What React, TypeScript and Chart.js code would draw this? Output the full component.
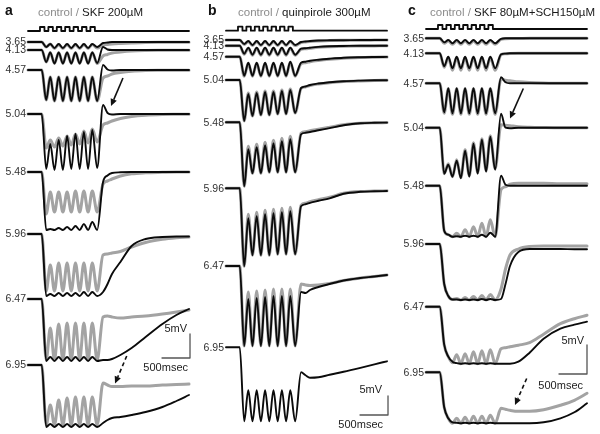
import React, { useEffect, useRef } from 'react';
import { Chart, registerables } from 'chart.js';

Chart.register(...registerables);

// ---------------- DATA ----------------
// Shared sample times (ms from trace start) locked to the 7-pulse stimulus train
const KEY_TIMES_MS = [0, 245, 325, 398, 473, 548, 623, 698, 773, 848, 923, 998, 1073, 1148, 1235, 1340, 1420, 1500, 1650, 1850, 2100, 2400, 2650, 2875];

// Holding levels (labels of the stacked sweeps)
const LEVELS = ['3.65', '4.13', '4.57', '5.04', '5.48', '5.96', '6.47', '6.95'];

// Stimulus pulse onsets (ms) and width (ms)
const STIM_ON_MS = [214, 364, 514, 664, 814, 964, 1114];
const STIM_WIDTH_MS = 80;
const STIM_END_MS = 2875;

// Hyperpolarisation (mV, positive = downward) at KEY_TIMES_MS
// Panel a: drug = SKF 200µM (black), control (gray)
const SKF200_HYP = [
  [0, 0, 1, 0.4, 1.2, 0.4, 1.2, 0.4, 1.2, 0.4, 1.2, 0.4, 1.2, 0.4, 1, 0.2, 0.1, 0, 0, 0, 0, 0, 0, 0],
  [0, 0, 2.4, 0.5, 2.7, 0.5, 2.7, 0.5, 2.7, 0.5, 2.7, 0.5, 2.7, 0.5, 2.6, -0.6, -0.1, 0, 0, 0, 0, 0, 0, 0],
  [0, 0, 6, 1.4, 6.2, 1.4, 6.2, 1.4, 6.2, 1.4, 6.2, 1.4, 6.2, 1.4, 6.2, -1, -0.1, 0.1, 0, 0, 0, 0, 0, 0],
  [0, 0, 11, 6, 11.2, 5.2, 11.2, 4.4, 11, 4, 11, 3.6, 11, 3.2, 10.8, -1.8, -0.2, 0.1, 0, 0, 0, 0, 0, 0],
  [0, 0, 11.6, 11.4, 11.6, 11.2, 11.6, 11, 11.6, 10.8, 11.6, 10.4, 11.6, 10, 11.6, 2, 0.7, 0.2, 0.06, 0, 0, 0, 0, 0],
  [0, 0, 12.4, 12, 12.4, 11.8, 12.4, 11.8, 12.4, 11.8, 12.4, 11.6, 12.4, 11.6, 12.4, 11.6, 10, 8, 5.6, 2.4, 1, 0.6, 0.5, 0.5],
  [0, 0, 12.4, 11.6, 12.4, 11.6, 12.4, 11.6, 12.4, 11.6, 12.4, 11.6, 12.4, 11.6, 12.4, 12.2, 12.2, 12, 11.2, 9.8, 7.6, 5, 3.2, 2],
  [0, 0, 12.4, 11.8, 12.4, 11.8, 12.4, 11.8, 12.4, 11.8, 12.4, 11.8, 12.4, 11.8, 12.4, 11.6, 11, 10.6, 10.4, 10, 9.4, 8.4, 7.2, 6],
];
const CONTROL_A_HYP = [
  [0, 0, 1, 0.4, 1.3, 0.5, 1.3, 0.5, 1.3, 0.5, 1.3, 0.5, 1.3, 0.5, 1.2, 0.6, 0.5, 0.4, 0.3, 0.2, 0.1, 0.06, 0.04, 0.04],
  [0, 0, 2.4, 0.5, 2.7, 0.5, 2.7, 0.5, 2.7, 0.5, 2.7, 0.5, 2.7, 0.5, 2.7, 1.2, 0.9, 0.6, 0.4, 0.2, 0.1, 0.06, 0.04, 0.04],
  [0, 0, 6, 1.4, 6.2, 1.4, 6.2, 1.4, 6.2, 1.4, 6.2, 1.4, 6.2, 1.4, 6.2, 1.6, 1.2, 0.8, 0.5, 0.24, 0.1, 0.06, 0.04, 0.04],
  [0, 0, 6.8, 5.2, 6.6, 4.8, 6.4, 4.4, 6.2, 4, 6, 3.4, 5.8, 3, 5.6, 2.2, 1.8, 1.4, 0.9, 0.5, 0.24, 0.1, 0.06, 0.04],
  [0, 0, 8.4, 4, 8, 4, 8, 4, 8, 3.8, 8, 3.8, 8, 3.8, 8, 2.4, 1.8, 1.4, 0.8, 0.36, 0.16, 0.06, 0, 0],
  [0, 0, 11.4, 6.2, 11.4, 5.8, 11.4, 5.8, 11.4, 5.8, 11.4, 5.8, 11.4, 5.8, 11.4, 4.2, 4, 3.8, 3.5, 2.6, 1.7, 1.06, 0.76, 0.6],
  [0, 0, 12.2, 5.8, 12.2, 5, 12.2, 4.8, 12.2, 4.8, 12.2, 4.8, 12.2, 4.8, 12.2, 3.6, 3.4, 3.6, 3.8, 3.6, 3.4, 3, 2.6, 2.2],
  [0, 0, 12, 8, 12, 7, 12, 6.6, 12, 6.4, 12, 6.4, 12, 6.4, 12, 3.6, 4, 4.3, 4.3, 4.2, 4.2, 4, 3.9, 3.8],
];

// Panel b: drug = quinpirole 300µM (black), control (gray)
const QUIN300_HYP = [
  [0, 0, 0.8, 0.2, 1, 0.2, 1, 0.2, 1, 0.2, 1, 0.2, 1, 0.2, 1, 0.4, 0.3, 0.2, 0.1, 0.06, 0.04, 0, 0, 0],
  [0, 0, 1.6, 0.4, 1.8, 0.4, 1.8, 0.4, 1.8, 0.4, 1.8, 0.4, 1.8, 0.4, 1.8, 0.6, 0.5, 0.4, 0.24, 0.12, 0.06, 0, 0, 0],
  [0, 0, 3.8, 1.2, 3.8, 1.2, 3.8, 1.2, 3.8, 1.2, 3.8, 1.2, 3.8, 1, 3.8, 1.2, 1, 0.8, 0.6, 0.4, 0.2, 0.1, 0.06, 0.04],
  [0, 0, 8.2, 2.8, 7.2, 2.6, 7, 2.4, 7, 2.4, 6.8, 2.2, 6.8, 2, 6.6, 1.6, 1.3, 1, 0.7, 0.44, 0.24, 0.12, 0.06, 0.04],
  [0, 0, 12.8, 5.4, 10.2, 5, 10.2, 4.6, 10, 4.2, 10, 3.8, 10, 3.4, 10, 2.4, 2.1, 1.94, 1.6, 1.16, 0.6, 0.2, 0.1, 0.06],
  [0, 0, 15.6, 6, 13.4, 5.6, 13.4, 5.2, 13.4, 5, 13.2, 4.8, 13.2, 4.6, 13.2, 3.6, 3.2, 2.9, 2.5, 2, 1.1, 0.7, 0.6, 0.54],
  [0, 0, 16, 6.6, 16, 6.4, 16, 6.2, 16, 6, 16, 6, 16, 6, 16, 5.2, 5.4, 4.8, 4.2, 3.6, 2.9, 2.4, 2.1, 1.8],
  [0, 0, 14.8, 8.6, 14.8, 8.6, 14.8, 8.6, 14.8, 8.6, 14.8, 8.6, 14.8, 8.6, 14.8, 5, 5.6, 6.1, 6, 5.5, 4.9, 4.1, 3.4, 2.8],
];
const CONTROL_B_HYP = [
  [0, 0, 0.9, 0.3, 1.1, 0.3, 1.1, 0.3, 1.1, 0.3, 1.1, 0.3, 1.1, 0.3, 1.1, 0.5, 0.4, 0.3, 0.2, 0.1, 0.06, 0.04, 0.02, 0],
  [0, 0, 1.7, 0.5, 1.9, 0.5, 1.9, 0.5, 1.9, 0.5, 1.9, 0.5, 1.9, 0.5, 1.9, 0.7, 0.6, 0.5, 0.32, 0.2, 0.1, 0.06, 0.04, 0.02],
  [0, 0, 3.9, 1.3, 3.9, 1.3, 3.9, 1.3, 3.9, 1.3, 3.9, 1.3, 3.9, 1.1, 3.9, 1.4, 1.2, 1, 0.76, 0.52, 0.3, 0.16, 0.1, 0.06],
  [0, 0, 8.2, 2.6, 7.2, 2.4, 7, 2.2, 7, 2.2, 6.8, 2, 6.8, 1.8, 6.6, 1.7, 1.4, 1.1, 0.8, 0.54, 0.32, 0.18, 0.1, 0.06],
  [0, 0, 12.8, 4.8, 10.2, 4.4, 10.2, 4, 10, 3.6, 10, 3.2, 10, 2.8, 10, 2.2, 1.9, 1.7, 1.4, 1, 0.5, 0.2, 0.1, 0.06],
  [0, 0, 15.6, 5.2, 13.4, 4.8, 13.4, 4.4, 13.4, 4.2, 13.2, 4, 13.2, 3.8, 13.2, 3.4, 3, 2.7, 2.3, 1.8, 1, 0.64, 0.56, 0.5],
  [0, 0, 16, 5.2, 16, 5, 16, 4.8, 16, 4.6, 16, 4.6, 16, 4.6, 16, 3.6, 3.8, 3.9, 3.8, 3.5, 2.9, 2.4, 2.1, 1.8],
  null,
];

// Panel c: drug = SKF 80µM + SCH 150µM (black), control (gray)
const SKF80_SCH150_HYP = [
  [0, 0, 0.8, 0.34, 1, 0.34, 1, 0.34, 1, 0.34, 1, 0.34, 1, 0.34, 1, 0.1, 0, 0, 0, 0, 0, 0, 0, 0],
  [0, 0, 2.6, 0.7, 3, 0.7, 3, 0.7, 3, 0.7, 3, 0.7, 3, 0.7, 3, 0.2, 0.06, 0, 0, 0, 0, 0, 0, 0],
  [0, 0, 5.8, 1, 6, 1, 6, 1, 6, 1, 6, 1, 6, 1, 6, -1.2, -0.2, 0, 0, 0, 0, 0, 0, 0],
  [0, 0, 9.2, 7.4, 9.8, 6.6, 10.1, 4.6, 9.8, 3.2, 9.2, 2.4, 8.8, 1.8, 8.4, -2.8, 0, 0.1, 0, 0, 0, 0, 0, 0],
  [0, 0, 9, 9.8, 10.2, 10.1, 10.2, 10, 10.2, 10, 10.2, 9.8, 10.2, 9.4, 10.2, -2, -0.2, 0, 0, 0, 0, 0, 0, 0],
  [0, 0, 8, 10.4, 11.1, 11.1, 11.2, 11.1, 11.2, 11.1, 11.2, 11, 11.2, 11, 11.2, 11, 8, 4.4, 1.6, 1, 1, 1, 1.06, 1.06],
  [0, 0, 7.6, 10, 11, 11.3, 11.4, 11.3, 11.4, 11.3, 11.4, 11.3, 11.4, 11.3, 11.4, 11.4, 11.4, 11.4, 11, 9.2, 6.4, 4.4, 3.6, 3],
  [0, 0, 7, 9.2, 10, 10.1, 10.2, 10.1, 10.2, 10.1, 10.2, 10.1, 10.2, 10.1, 10.2, 10.2, 10.2, 10.2, 10.2, 10.2, 10, 9.2, 8, 6.2],
];
const CONTROL_C_HYP = [
  [0, 0, 1, 0.5, 1.2, 0.5, 1.2, 0.5, 1.2, 0.5, 1.2, 0.5, 1.2, 0.5, 1.2, 0.2, 0.1, 0.06, 0.04, 0, 0, 0, 0, 0],
  [0, 0, 2.8, 0.8, 3.4, 0.8, 3.4, 0.8, 3.4, 0.8, 3.4, 0.8, 3.4, 0.8, 3.4, 0.3, 0.1, 0.04, 0, 0, 0, 0, 0, 0],
  [0, 0, 6, 1.1, 6.2, 1.1, 6.2, 1.1, 6.2, 1.1, 6.2, 1.1, 6.2, 1.1, 6.2, -0.9, -0.6, -0.5, -0.3, -0.16, -0.06, 0, 0, 0],
  [0, 0, 9.2, 7.2, 9.8, 6.4, 10, 4.4, 9.6, 3, 9, 2.2, 8.6, 1.6, 8.2, -0.6, -0.5, -0.4, -0.2, -0.1, -0.04, 0, 0, 0],
  [0, 0, 9, 9.8, 10.2, 9.5, 10.2, 8.8, 10.2, 8.2, 10.2, 7.5, 10.2, 6.8, 10.2, 0.8, 0.2, -0.3, -0.5, -0.5, -0.5, -0.4, -0.4, -0.4],
  [0, 0, 8, 10.4, 11.1, 10.9, 11.2, 10.7, 11.2, 10.5, 11.2, 10.3, 11.2, 10.1, 11.2, 9, 5, 2.2, 1, 0.5, 0.4, 0.4, 0.4, 0.4],
  [0, 0, 7.6, 10, 11.2, 9.6, 11.4, 9.4, 11.4, 9, 11.4, 8.8, 11.4, 8.6, 11.4, 8.4, 8.2, 8, 7.7, 7.2, 5.5, 3.4, 2.4, 1.7],
  [0, 0, 7, 9.2, 10.2, 9.2, 10.2, 9, 10.2, 8.8, 10.2, 8.8, 10.2, 8.6, 10.2, 7.2, 7.4, 7.6, 7.8, 7.8, 7.5, 6.6, 5.6, 4.2],
];

// Scale bars
const SCALE_MS = 500;
const SCALE_MV_LABEL = '5mV';
const SCALE_MS_LABEL = '500msec';

// ---------------- LAYOUT / STYLE ----------------
const H = 434;
const PX_PER_MS = 0.056;
const PX_PER_UNIT = 5; // vertical px per plotted mV unit
const TRACE_X0 = 28; // px from panel left where t = 0
const FONT = "'Liberation Sans', Arial, Helvetica, sans-serif";
const BLACK = '#0b0b0b';
const GRAY = '#a3a3a3';

type Arrow = { from: [number, number]; to: [number, number]; dashed: boolean };
type Panel = {
  id: string; left: number; width: number; letter: string; letterX: number; titleX: number; drug: string;
  black: (number[] | null)[]; gray: (number[] | null)[]; topsPx: number[]; stimTopPx: number;
  bar: { cornerMs: number; cornerPx: number; heightPx: number; mvText: [number, number]; msText: [number, number] };
  arrows: Arrow[];
};

const PANELS: Panel[] = [
  {
    id: 'a', left: 0, width: 198, letter: 'a', letterX: 5, titleX: 38, drug: 'SKF 200\u00B5M',
    black: SKF200_HYP, gray: CONTROL_A_HYP,
    topsPx: [42, 50, 70, 114, 172, 234, 299, 365], stimTopPx: 31,
    bar: { cornerMs: 2893, cornerPx: 358, heightPx: 24, mvText: [-3, -29], msText: [-2, 10] },
    arrows: [
      { from: [1696, -15.6], to: [1482, -21.2], dashed: false },
      { from: [1763, -71.2], to: [1554, -76.7], dashed: true },
    ],
  },
  {
    id: 'b', left: 198, width: 200, letter: 'b', letterX: 10, titleX: 40, drug: 'quinpirole 300\u00B5M',
    black: QUIN300_HYP, gray: CONTROL_B_HYP,
    topsPx: [40, 45.7, 56.7, 80, 122.3, 188.3, 266, 347.3], stimTopPx: 30.7,
    bar: { cornerMs: 2893, cornerPx: 415, heightPx: 19, mvText: [-6, -25], msText: [-5, 10] },
    arrows: [],
  },
  {
    id: 'c', left: 398, width: 202, letter: 'c', letterX: 10, titleX: 32, drug: 'SKF 80\u00B5M+SCH150\u00B5M',
    black: SKF80_SCH150_HYP, gray: CONTROL_C_HYP,
    topsPx: [38.3, 53.3, 83.3, 127.7, 185.7, 244, 306.7, 372.3], stimTopPx: 29,
    bar: { cornerMs: 2875, cornerPx: 374, heightPx: 29, mvText: [-3, -33], msText: [-4, 12] },
    arrows: [
      { from: [1738, -17.7], to: [1500, -23.7], dashed: false },
      { from: [1798, -75.7], to: [1589, -81], dashed: true },
    ],
  },
];

function traceData(topPx: number, hyp: number[]) {
  const base = -topPx / PX_PER_UNIT;
  return KEY_TIMES_MS.map((t, i) => ({ x: t, y: base - hyp[i] }));
}

function stimData(topPx: number) {
  const base = -topPx / PX_PER_UNIT;
  const high = base + 0.8;
  const pts: { x: number; y: number }[] = [{ x: 0, y: base }];
  STIM_ON_MS.forEach((on) => {
    pts.push({ x: on, y: high });
    pts.push({ x: on + STIM_WIDTH_MS, y: base });
  });
  pts.push({ x: STIM_END_MS, y: base });
  return pts;
}

function drawArrow(ctx: CanvasRenderingContext2D, x1: number, y1: number, x2: number, y2: number, dashed: boolean) {
  const ang = Math.atan2(y2 - y1, x2 - x1);
  const head = 7;
  const hw = 3.3;
  const bx = x2 - head * Math.cos(ang);
  const by = y2 - head * Math.sin(ang);
  ctx.strokeStyle = '#111';
  ctx.fillStyle = '#111';
  ctx.lineWidth = 1.6;
  ctx.setLineDash(dashed ? [4, 3] : []);
  ctx.beginPath();
  ctx.moveTo(x1, y1);
  ctx.lineTo(bx, by);
  ctx.stroke();
  ctx.setLineDash([]);
  ctx.beginPath();
  ctx.moveTo(x2, y2);
  ctx.lineTo(bx + hw * Math.sin(ang), by - hw * Math.cos(ang));
  ctx.lineTo(bx - hw * Math.sin(ang), by + hw * Math.cos(ang));
  ctx.closePath();
  ctx.fill();
}

function buildConfig(p: Panel): any {
  const datasets: any[] = [];
  LEVELS.forEach((lvl, i) => {
    const g = p.gray[i];
    if (g) {
      datasets.push({
        label: 'control ' + lvl, data: traceData(p.topsPx[i], g), borderColor: GRAY, borderWidth: 3,
        pointRadius: 0, cubicInterpolationMode: 'monotone', order: 2, fill: false,
      });
    }
    const b = p.black[i];
    if (b) {
      datasets.push({
        label: p.drug + ' ' + lvl, data: traceData(p.topsPx[i], b), borderColor: BLACK, borderWidth: 1.9,
        pointRadius: 0, cubicInterpolationMode: 'monotone', order: 1, fill: false,
      });
    }
  });
  datasets.push({
    label: 'stimulus', data: stimData(p.stimTopPx), borderColor: BLACK, borderWidth: 1.8,
    pointRadius: 0, stepped: true, order: 0, fill: false,
  });
  const cy = -p.bar.cornerPx / PX_PER_UNIT;
  datasets.push({
    label: 'scale', data: [
      { x: p.bar.cornerMs - SCALE_MS, y: cy },
      { x: p.bar.cornerMs, y: cy },
      { x: p.bar.cornerMs, y: cy + p.bar.heightPx / PX_PER_UNIT },
    ],
    borderColor: '#555', borderWidth: 1.3, pointRadius: 0, tension: 0, order: 0, fill: false,
  });

  const textPlugin = {
    id: 'panelText',
    afterDatasetsDraw(chart: any) {
      const ctx: CanvasRenderingContext2D = chart.ctx;
      const xs = chart.scales.x;
      const ys = chart.scales.y;
      ctx.save();
      // panel letter
      ctx.textBaseline = 'alphabetic';
      ctx.textAlign = 'left';
      ctx.fillStyle = '#111';
      ctx.font = `bold 14px ${FONT}`;
      ctx.fillText(p.letter, p.letterX, 15);
      // title
      ctx.font = `11.5px ${FONT}`;
      const ctrl = 'control / ';
      ctx.fillStyle = '#8c8c8c';
      ctx.fillText(ctrl, p.titleX, 16);
      const w = ctx.measureText(ctrl).width;
      ctx.fillStyle = '#1a1a1a';
      ctx.fillText(p.drug, p.titleX + w, 16);
      // level labels
      ctx.font = `10.5px ${FONT}`;
      ctx.fillStyle = '#333';
      ctx.textAlign = 'right';
      ctx.textBaseline = 'middle';
      const x0 = xs.getPixelForValue(0);
      LEVELS.forEach((lvl, i) => {
        const y = ys.getPixelForValue(-p.topsPx[i] / PX_PER_UNIT);
        ctx.fillText(lvl, x0 - 2, y + 0.5);
      });
      // scale bar labels
      const bx = xs.getPixelForValue(p.bar.cornerMs);
      const by = ys.getPixelForValue(cy);
      ctx.font = `11px ${FONT}`;
      ctx.fillStyle = '#222';
      ctx.fillText(SCALE_MV_LABEL, bx + p.bar.mvText[0], by + p.bar.mvText[1]);
      ctx.fillText(SCALE_MS_LABEL, bx + p.bar.msText[0], by + p.bar.msText[1]);
      // arrows
      p.arrows.forEach((a) => {
        drawArrow(ctx, xs.getPixelForValue(a.from[0]), ys.getPixelForValue(a.from[1]),
          xs.getPixelForValue(a.to[0]), ys.getPixelForValue(a.to[1]), a.dashed);
      });
      ctx.restore();
    },
  };

  return {
    type: 'line',
    data: { datasets },
    options: {
      responsive: false,
      maintainAspectRatio: false,
      animation: false,
      events: [],
      layout: { padding: 0 },
      plugins: { legend: { display: false }, tooltip: { enabled: false }, title: { display: false } },
      elements: { point: { radius: 0 }, line: { borderJoinStyle: 'round', borderCapStyle: 'round' } },
      scales: {
        x: { type: 'linear', display: false, min: -TRACE_X0 / PX_PER_MS, max: (p.width - TRACE_X0) / PX_PER_MS },
        y: { type: 'linear', display: false, min: -H / PX_PER_UNIT, max: 0 },
      },
    },
    plugins: [textPlugin],
  };
}

function PanelChart({ panel }: { panel: Panel }) {
  const ref = useRef<HTMLCanvasElement | null>(null);
  useEffect(() => {
    if (!ref.current) return;
    const chart = new Chart(ref.current, buildConfig(panel));
    return () => chart.destroy();
  }, [panel]);
  return (
    <canvas
      ref={ref}
      width={panel.width}
      height={H}
      style={{ position: 'absolute', left: panel.left, top: 0, width: panel.width, height: H }}
    />
  );
}

export default function App() {
  return (
    <div style={{ position: 'fixed', left: 0, top: 0, width: 600, height: H, background: '#fff', overflow: 'hidden' }}>
      {PANELS.map((p) => (
        <PanelChart key={p.id} panel={p} />
      ))}
    </div>
  );
}
